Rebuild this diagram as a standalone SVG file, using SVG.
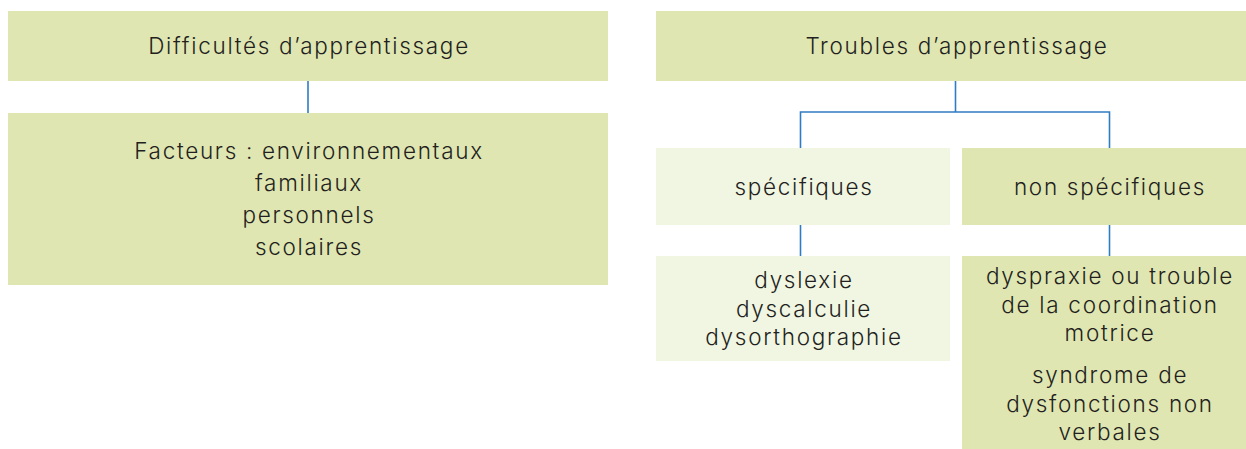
<svg xmlns="http://www.w3.org/2000/svg" width="1246" height="449" viewBox="0 0 1246 449">
<style>
.dark{fill:#dfe6b2}
.light{fill:#f1f6e2}
text{font-family:Inter,"Noto Sans","Liberation Sans",sans-serif;font-size:22.5px;font-weight:300;letter-spacing:1.7px;fill:#231f20;text-anchor:middle}
.conn{stroke:#2f7cc2;stroke-width:1.6;fill:none}
</style>
<rect width="1246" height="449" fill="#ffffff"/>
<g id="connectors">
<line class="conn" x1="308" y1="81" x2="308" y2="113"/>
<path class="conn" d="M955.5 81V112M800.5 148V112H1109.5V148"/>
<line class="conn" x1="800.5" y1="225" x2="800.5" y2="256"/>
<line class="conn" x1="1109.5" y1="225" x2="1109.5" y2="256"/>
</g>
<g id="n-difficultes">
<rect class="dark" x="8" y="11" width="600" height="70"/>
<text x="309" y="54">Difficultés d’apprentissage</text>
</g>
<g id="n-facteurs">
<rect class="dark" x="8" y="113" width="600" height="172"/>
<text x="309" y="159">Facteurs : environnementaux</text>
<text x="309" y="191">familiaux</text>
<text x="309" y="223">personnels</text>
<text x="309" y="255">scolaires</text>
</g>
<g id="n-troubles">
<rect class="dark" x="656" y="11" width="600" height="70"/>
<text x="957" y="54">Troubles d’apprentissage</text>
</g>
<g id="n-specifiques">
<rect class="light" x="656" y="148" width="294" height="77"/>
<text x="804" y="195">spécifiques</text>
</g>
<g id="n-nonspecifiques">
<rect class="dark" x="962" y="148" width="294" height="77"/>
<text x="1110" y="195">non spécifiques</text>
</g>
<g id="n-dys">
<rect class="light" x="656" y="256" width="294" height="105"/>
<text x="804" y="288">dyslexie</text>
<text x="804" y="317">dyscalculie</text>
<text x="804" y="345">dysorthographie</text>
</g>
<g id="n-dyspraxie">
<rect class="dark" x="962" y="256" width="294" height="193"/>
<text x="1110" y="284">dyspraxie ou trouble</text>
<text x="1110" y="313">de la coordination</text>
<text x="1110" y="341">motrice</text>
<text x="1110" y="383">syndrome de</text>
<text x="1110" y="412">dysfonctions non</text>
<text x="1110" y="440">verbales</text>
</g>
</svg>
